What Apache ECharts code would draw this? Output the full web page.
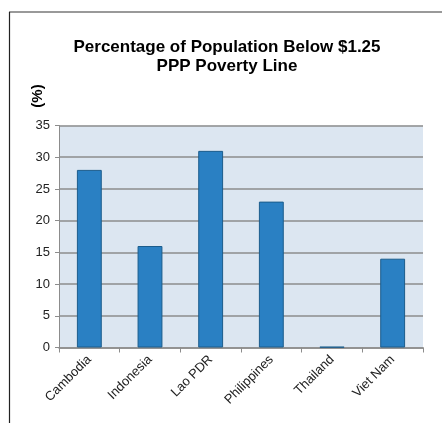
<!DOCTYPE html>
<html>
<head>
<meta charset="utf-8">
<script src="https://cdn.jsdelivr.net/npm/echarts@6/dist/echarts.min.js"></script>
<style>html,body{margin:0;padding:0;background:#fff;}#c{width:442px;height:423px;}</style>
</head>
<body>
<div id="c"></div>
<script>
const categories = ['Cambodia', 'Indonesia', 'Lao PDR', 'Philippines', 'Thailand', 'Viet Nam'];
const values = [28, 16, 31, 23, 0.1, 14];
const yTicks = [0, 5, 10, 15, 20, 25, 30, 35];

const chart = echarts.init(document.getElementById('c'), null, {renderer: 'canvas'});
const font = '"Liberation Sans", Arial, Helvetica, sans-serif';
chart.setOption({
  backgroundColor: '#ffffff',
  animation: false,
  title: {
    text: 'Percentage of Population Below $1.25\nPPP Poverty Line',
    left: 222, top: 33, textAlign: 'center',
    textStyle: {fontFamily: font, fontSize: 17, fontWeight: 'bold', color: '#000', lineHeight: 19}
  },
  graphic: [
    {type: 'line', shape: {x1: 9, y1: 12, x2: 442, y2: 12}, style: {stroke: '#777', lineWidth: 1.5}},
    {type: 'line', shape: {x1: 9.5, y1: 12, x2: 9.5, y2: 423}, style: {stroke: '#222', lineWidth: 1.2}},
    {type: 'text', x: 38, y: 96, rotation: Math.PI / 2, style: {text: '(%)', font: 'bold 15px ' + font, fill: '#000', textAlign: 'center', textVerticalAlign: 'middle'}}
  ],
  grid: {left: 59, right: 19, top: 125.5, bottom: 75.5, show: true, backgroundColor: '#dce6f1', borderWidth: 0},
  xAxis: {
    type: 'category', data: categories,
    axisLine: {show: true, lineStyle: {color: '#8c8c8c', width: 1.5}},
    axisTick: {show: true, alignWithLabel: false, length: 5, lineStyle: {color: '#8c8c8c'}},
    axisLabel: {rotate: 45, fontFamily: font, fontSize: 13, color: '#222', margin: 10, interval: 0}
  },
  yAxis: {
    type: 'value', min: yTicks[0], max: yTicks[yTicks.length - 1], interval: 5,
    axisLine: {show: true, lineStyle: {color: '#8c8c8c', width: 1}},
    axisTick: {show: true, length: 4, lineStyle: {color: '#8c8c8c'}},
    axisLabel: {fontFamily: font, fontSize: 13, color: '#222', margin: 9},
    splitLine: {show: true, lineStyle: {color: '#8c8c8c', width: 1.5}}
  },
  series: [{
    type: 'bar', data: values, barWidth: '41%',
    itemStyle: {color: '#2a80c3', borderColor: '#1b5c8c', borderWidth: 1}
  }]
});
</script>
</body>
</html>
